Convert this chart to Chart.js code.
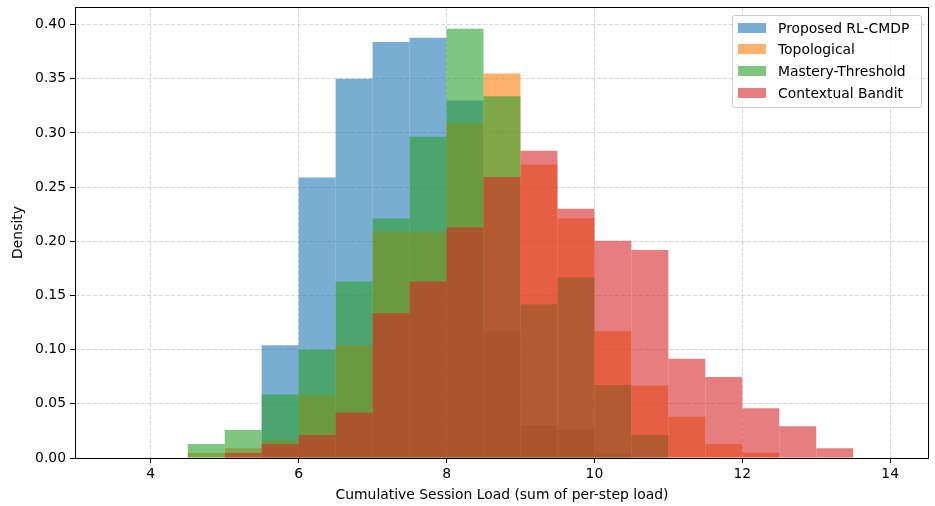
<!DOCTYPE html>
<html>
<head>
<meta charset="utf-8">
<script src="https://cdn.jsdelivr.net/npm/chart.js@4.4.1/dist/chart.umd.min.js"></script>
<style>
  html, body { margin: 0; padding: 0; background: #fff; }
  #wrap { position: relative; width: 935px; height: 506px; }
  #legend {
    position: absolute; left: 732px; top: 15px; width: 188px;
    padding: 1px 0 4px 0;
    border: 1px solid #cccccc; border-radius: 3px;
    background: rgba(255,255,255,0.8);
    font-family: "DejaVu Sans", sans-serif; font-size: 13.9px; color: #000;
  }
  .row { display: flex; align-items: center; height: 21.6px; }
  .sw { width: 28px; height: 10px; margin-left: 5px; margin-right: 12px; }
</style>
</head>
<body>
<div id="wrap">
  <canvas id="hist"></canvas>
  <div id="legend"></div>
</div>
<script>
// Histogram bins (left edges), width 0.5
const binStarts = [4.5, 5.0, 5.5, 6.0, 6.5, 7.0, 7.5, 8.0, 8.5, 9.0, 9.5, 10.0, 10.5, 11.0, 11.5, 12.0, 12.5, 13.0];
const binWidth = 0.5;

const seriesNames = ['Proposed RL-CMDP', 'Topological', 'Mastery-Threshold', 'Contextual Bandit'];

// densities per bin
const rlcmdp     = [0, 0, 0.104, 0.259, 0.350, 0.384, 0.388, 0.330, 0.117, 0.030, 0.026, 0.0045, 0, 0, 0, 0, 0, 0];
const topological = [0.0046, 0.009, 0.0163, 0.058, 0.104, 0.209, 0.209, 0.309, 0.355, 0.271, 0.221, 0.117, 0.067, 0.038, 0.013, 0.0049, 0, 0];
const mastery    = [0.0129, 0.0259, 0.0585, 0.100, 0.163, 0.221, 0.2965, 0.3963, 0.334, 0.142, 0.1666, 0.0674, 0.0212, 0, 0, 0, 0, 0];
const bandit     = [0, 0.0046, 0.0127, 0.0212, 0.0419, 0.1337, 0.163, 0.2127, 0.2593, 0.2836, 0.230, 0.2005, 0.192, 0.0915, 0.0748, 0.0459, 0.0293, 0.009];

const xTicks = [4, 6, 8, 10, 12, 14];
const yTicks = [0, 0.05, 0.10, 0.15, 0.20, 0.25, 0.30, 0.35, 0.40];

const colors = ['rgba(31,119,180,0.6)', 'rgba(255,127,14,0.6)', 'rgba(44,160,44,0.6)', 'rgba(214,39,40,0.6)'];

const FONT = '"DejaVu Sans", sans-serif';
Chart.defaults.font.family = FONT;
Chart.defaults.font.size = 13.9;
Chart.defaults.color = '#000';

function toPoints(values) {
  return values.map((v, i) => ({ x: binStarts[i] + binWidth / 2, y: v }));
}

const allSeries = [rlcmdp, topological, mastery, bandit];

// later series sit on top, like matplotlib
const datasets = allSeries.map((vals, i) => ({
  label: seriesNames[i],
  data: toPoints(vals),
  backgroundColor: colors[i],
  borderWidth: 0,
  inflateAmount: 0,
  grouped: false,
  barPercentage: 1,
  categoryPercentage: 1,
  order: allSeries.length - i
}));

// full box round the plot area
const frame = {
  id: 'frame',
  afterDraw(chart) {
    const { ctx, chartArea } = chart;
    ctx.save();
    ctx.strokeStyle = '#000';
    ctx.lineWidth = 1;
    ctx.strokeRect(Math.round(chartArea.left) + 0.5, Math.round(chartArea.top) + 0.5,
      Math.round(chartArea.right - chartArea.left) - 1, Math.round(chartArea.bottom - chartArea.top));
    ctx.restore();
  }
};

const gridStyle = {
  color: 'rgba(176,176,176,0.5)',
  lineWidth: 1,
  offset: false,
  tickColor: '#000',
  tickLength: 5,
  tickWidth: 1
};

const chart = new Chart(document.getElementById('hist'), {
  type: 'bar',
  data: { datasets },
  options: {
    responsive: true,
    maintainAspectRatio: false,
    animation: false,
    layout: { padding: { top: 7, right: 6, left: 0, bottom: 0 } },
    plugins: {
      legend: { display: false },
      tooltip: { enabled: false }
    },
    scales: {
      x: {
        type: 'linear',
        offset: false,
        min: 2.975,
        max: 14.525,
        z: 1,
        grid: gridStyle,
        border: { display: false, dash: [4, 2] },
        ticks: { padding: 3, maxRotation: 0 },
        afterBuildTicks: s => { s.ticks = xTicks.map(v => ({ value: v })); },
        afterFit: s => { s.height = 48; s.paddingLeft = 0; s.paddingRight = 0; },
        title: {
          display: true,
          text: 'Cumulative Session Load (sum of per-step load)',
          padding: { top: 0, bottom: 2 }
        }
      },
      y: {
        min: 0,
        max: 0.4163,
        z: 1,
        grid: gridStyle,
        border: { display: false, dash: [4, 2] },
        ticks: { padding: 4, callback: v => v.toFixed(2) },
        afterBuildTicks: s => { s.ticks = yTicks.map(v => ({ value: v })); },
        afterFit: s => { s.width = 75; s.paddingTop = 0; s.paddingBottom = 0; },
        title: {
          display: true,
          text: 'Density',
          padding: { top: 10, bottom: 0 }
        }
      }
    }
  },
  plugins: [frame]
});

// legend as html, in series order
const legend = document.getElementById('legend');
chart.data.datasets.forEach(ds => {
  const row = document.createElement('div');
  row.className = 'row';
  const sw = document.createElement('span');
  sw.className = 'sw';
  sw.style.background = ds.backgroundColor;
  const txt = document.createElement('span');
  txt.textContent = ds.label;
  row.appendChild(sw);
  row.appendChild(txt);
  legend.appendChild(row);
});
</script>
</body>
</html>
